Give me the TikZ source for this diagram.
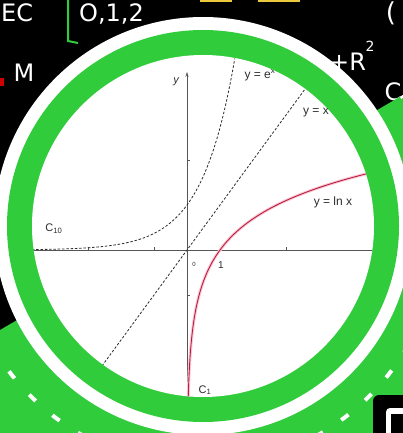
\documentclass[tikz,border=0pt]{standalone}
\usepackage{fontspec}
\setmainfont{Liberation Sans}
\newfontfamily\chalk{DejaVu Sans}
\usetikzlibrary{arrows.meta}
\definecolor{ringgreen}{RGB}{48,204,60}
\definecolor{lnred}{RGB}{185,30,60}
\definecolor{lnpink}{RGB}{250,200,215}
\definecolor{axisgray}{RGB}{85,85,85}
\definecolor{curvegray}{RGB}{45,45,45}
\definecolor{chalkyellow}{RGB}{235,200,60}
\tikzset{
  chalktext/.style={text=white, inner sep=0pt, font=\chalk\fontsize{24}{24}\selectfont},
  lbl/.style={text=curvegray, inner sep=0pt, font=\fontsize{12}{12}\selectfont},
  axisline/.style={draw=axisgray, line width=0.9pt},
  dashcurve/.style={draw=curvegray, line width=0.8pt, dash pattern=on 2.5pt off 1.8pt},
  lnhalo/.style={draw=lnpink, line width=3pt, line cap=round},
  lncurve/.style={draw=lnred, line width=0.9pt}
}
\begin{document}
\begin{tikzpicture}[x=1pt,y=-1pt]
\useasboundingbox (0,0) rectangle (403,433);
\fill[black] (0,0) rectangle (403,433);

% chalk writing on the board
\node[chalktext, anchor=west] (ec) at (1,13) {EC};
\node[chalktext, anchor=west] (nums) at (79,14) {O,1,2};
\node[chalktext] (mm) at (24,73) {M};
\node[chalktext, anchor=west] (pr) at (329,62) {+R};
\node[chalktext, font=\chalk\fontsize{14}{14}\selectfont] (sq) at (370,46) {2};
\node[chalktext] (cc) at (393,92) {C};
\node[chalktext, font=\chalk\fontsize{26}{26}\selectfont] (par) at (391,13) {(};
\draw[ringgreen, line width=2pt] (77,-3) -- (68,-3) -- (68,41) -- (78,43);
\draw[chalkyellow, line width=3pt] (200,1) -- (232,1) (258,1) -- (300,1);
\fill[red!80!black] (0,78) rectangle (4,86);

% lower green band with dashed centre line
\begin{scope}
  \clip (0,330) -- (403,95) -- (403,433) -- (0,433) -- cycle;
  \fill[ringgreen, even odd rule] (200,226) circle (330) (200,226) circle (205);
  \draw[white, line width=4pt, dash pattern=on 9pt off 22pt] (200,226) circle (240);
\end{scope}

% logo corner
\fill[black, rounded corners=6pt] (373,395) rectangle (430,470);
\fill[white, rounded corners=4pt] (386,408) rectangle (430,470);
\fill[black] (391,414) rectangle (430,470);

% rings
\fill[white] (203,226) circle (209);
\fill[ringgreen] (203,226) circle (196);
\fill[white] (203,226) circle (171);

% graph
\begin{scope}
  \clip (203,226) circle (171);
  \begin{scope}[shift={(187,250)}, x=33pt, y=45pt]
    \draw[axisline] (-6,0) -- (6,0);
    \draw[axisline, -{Stealth[length=5pt,width=3pt]}] (0,-4) -- (0,3.96);
    \foreach \t in {-3,-1,3} \draw[axisline] (\t,0) -- (\t,0.07);
    \foreach \t in {2,-1} \draw[axisline] (0,\t) -- (0.09,\t);
    \draw[dashcurve] plot[domain=-4.7:1.45, samples=80] (\x,{exp(\x)});
    \draw[dashcurve] (-3.5,-3.5) -- (4.5,4.5);
    \draw[lnhalo] plot[domain=-4.2:1.75, samples=100] ({exp(\x)},\x);
    \draw[lncurve] plot[domain=-4.2:1.75, samples=100] ({exp(\x)},\x);
  \end{scope}
  \node[lbl] (lexp) at (260,75) {y = e\textsuperscript{x}};
  \node[lbl] (lid) at (316,113) {y = x};
  \node[lbl] (lln) at (333,202) {y = ln x};
  \node[lbl, font=\itshape\fontsize{11}{11}\selectfont] (ly) at (176,82) {y};
  \node[lbl, font=\fontsize{10}{10}\selectfont] (lone) at (221,265) {1};
  \node[lbl, font=\fontsize{6}{6}\selectfont] (lo) at (194,264) {0};
  \node[lbl, font=\fontsize{11}{11}\selectfont] (cten) at (54,229) {C\textsubscript{10}};
  \node[lbl, font=\fontsize{11}{11}\selectfont] (cone) at (205,390) {C\textsubscript{1}};
\end{scope}
\end{tikzpicture}
\end{document}
